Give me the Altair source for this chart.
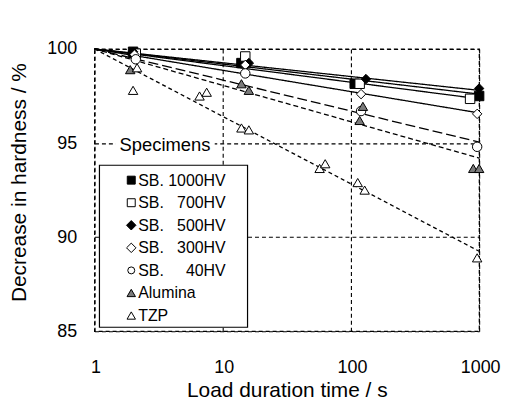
import altair as alt
import pandas as pd

FONT = "Liberation Sans"
NB = "\u00a0"

# ---- data ----
series_names = [
    "SB." + NB + "1000HV",
    "SB." + NB * 3 + "700HV",
    "SB." + NB * 3 + "500HV",
    "SB." + NB * 3 + "300HV",
    "SB." + NB * 5 + "40HV",
    "Alumina",
    "TZP",
]

t_1000 = [2.0, 14, 107, 1000]
h_1000 = [99.85, 99.25, 98.15, 97.5]

t_700 = [2.1, 15, 117, 850]
h_700 = [99.75, 99.6, 98.15, 97.35]

t_500 = [2.0, 16, 131, 1000]
h_500 = [99.85, 99.25, 98.4, 97.9]

t_300 = [2.05, 15, 120, 965]
h_300 = [99.7, 99.15, 97.6, 96.55]

t_40 = [2.1, 15, 120, 965]
h_40 = [99.45, 98.7, 96.7, 94.8]

t_alumina = [1.9, 14, 16, 124, 117, 900, 1000]
h_alumina = [98.9, 98.15, 97.8, 96.95, 96.2, 93.65, 93.65]

t_tzp = [2.15, 2.0, 6.6, 7.5, 14, 16, 57, 63, 113, 128, 965]
h_tzp = [99.0, 97.8, 97.5, 97.7, 95.8, 95.7, 93.65, 93.9, 92.9, 92.5, 88.9]

# fitted lines: from t=1 (100 %) to t=1000
fit_t = [1, 1000]
fit_start = [100, 100, 100, 100, 100, 100, 100]
fit_end = [97.6, 97.35, 97.8, 96.6, 95.05, 94.2, 89.25]

# ---- styles ----
shapes = ["square", "square", "diamond", "diamond", "circle", "triangle-up", "triangle-up"]
fills = ["black", "white", "black", "white", "white", "#7a7a7a", "white"]
legend_sizes = [64, 64, 90, 90, 49, 72, 72]
dashes = [[1, 0], [1, 0], [1, 0], [1, 0], [10, 4], [5, 3], [4, 3]]

# ---- tables ----
pts_t = [t_1000, t_700, t_500, t_300, t_40, t_alumina, t_tzp]
pts_h = [h_1000, h_700, h_500, h_300, h_40, h_alumina, h_tzp]
rows = []
for name, ts, hs in zip(series_names, pts_t, pts_h):
    for t, h in zip(ts, hs):
        rows.append({"series": name, "t": t, "h": h})
points_df = pd.DataFrame(rows)

line_rows = []
for name, h0, h1 in zip(series_names, fit_start, fit_end):
    line_rows.append({"series": name, "t": fit_t[0], "h": h0})
    line_rows.append({"series": name, "t": fit_t[1], "h": h1})
lines_df = pd.DataFrame(line_rows)

one = pd.DataFrame({"k": [0]})

x_scale = alt.Scale(type="log", domain=[1, 1000], nice=False)
y_scale = alt.Scale(domain=[85, 100], nice=False, zero=False)

x_axis = alt.Axis(
    title="Load duration time / s", values=[1, 10, 100, 1000], format="d",
    labelPadding=28, labelOffset=1, labelFlush=False, titleY=60, titleBaseline="middle",
)
y_axis = alt.Axis(
    title="Decrease in hardness / %", values=[85, 90, 95, 100], format="d",
    labelPadding=18, labelFlush=False, titleX=-75, titleY=134,
    titleBaseline="middle", titleAlign="center",
)

# ---- legend (drawn by hand, in pixels of the plot area) ----
box = alt.Chart(one).mark_rect(fill="white", stroke="black", strokeWidth=1.2).encode(
    x=alt.value(5), x2=alt.value(154), y=alt.value(117), y2=alt.value(280)
)
spec_bg = alt.Chart(one).mark_rect(fill="white").encode(
    x=alt.value(21), x2=alt.value(121), y=alt.value(88), y2=alt.value(106)
)
spec_text = alt.Chart(one).mark_text(
    text="Specimens", font=FONT, fontSize=18.5, align="center", baseline="middle", color="black"
).encode(x=alt.value(71), y=alt.value(97))

legend_layers = []
for i, (name, shp, fl, sz) in enumerate(zip(series_names, shapes, fills, legend_sizes)):
    ypix = 132 + 22.7 * i
    legend_layers.append(
        alt.Chart(one).mark_point(
            shape=shp, fill=fl, filled=True, stroke="black", strokeWidth=1, opacity=1, size=sz
        ).encode(x=alt.value(37), y=alt.value(ypix))
    )
    legend_layers.append(
        alt.Chart(one).mark_text(
            text=name, font=FONT, fontSize=16, align="left", baseline="middle", color="black"
        ).encode(x=alt.value(44), y=alt.value(ypix + 0.5))
    )

lines = alt.Chart(lines_df).mark_line(color="black", strokeWidth=1.3).encode(
    x=alt.X("t:Q", scale=x_scale, axis=x_axis),
    y=alt.Y("h:Q", scale=y_scale, axis=y_axis),
    detail="series:N",
    strokeDash=alt.StrokeDash("series:N", scale=alt.Scale(domain=series_names, range=dashes), legend=None),
)

points = alt.Chart(points_df).mark_point(filled=True, stroke="black", strokeWidth=1, opacity=1, size=90).encode(
    x=alt.X("t:Q", scale=x_scale),
    y=alt.Y("h:Q", scale=y_scale),
    shape=alt.Shape("series:N", scale=alt.Scale(domain=series_names, range=shapes), legend=None),
    fill=alt.Fill("series:N", scale=alt.Scale(domain=series_names, range=fills), legend=None),
)

chart = alt.layer(lines, points, box, spec_bg, spec_text, *legend_layers).properties(
    width=387, height=284,
    autosize=alt.AutoSizeParams(type="none"),
    padding={"left": 87, "top": 40, "right": 23, "bottom": 70},
    background="white",
).configure_view(
    stroke="black", strokeDash=[4, 3], strokeWidth=1.3
).configure_axis(
    grid=True, gridColor="black", gridDash=[4, 3], gridWidth=1.1, gridOpacity=1,
    domain=False, ticks=False, tickSize=0,
    labelFont=FONT, labelFontSize=18, labelColor="black",
    titleFont=FONT, titleFontSize=21, titleFontWeight="normal", titleColor="black",
)

chart.save("out.html", embed_options={"renderer": "svg", "actions": False})
